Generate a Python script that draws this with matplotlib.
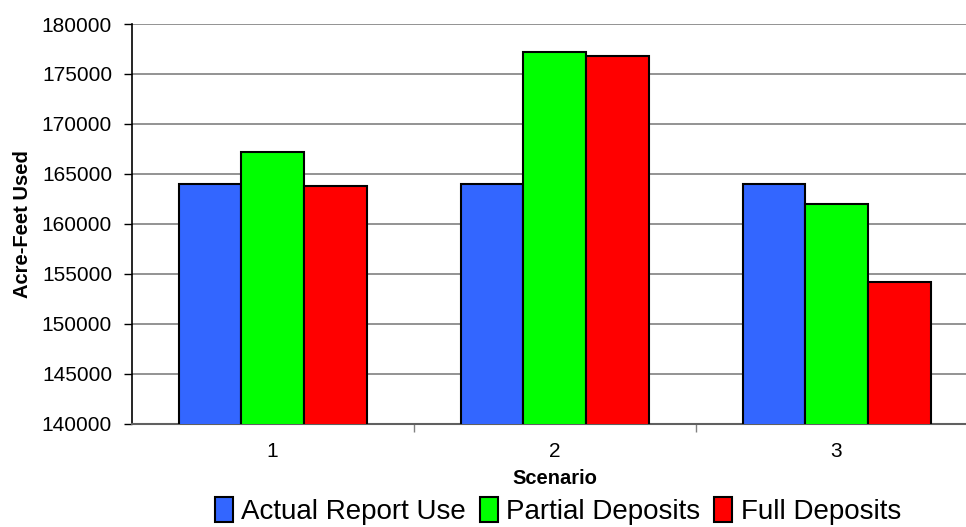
import matplotlib
matplotlib.use("Agg")
import matplotlib.pyplot as plt
import numpy as np

plt.rcParams['font.family'] = ['Liberation Sans', 'DejaVu Sans']

# acre-feet used per scenario
scenarios = ['1', '2', '3']
series_names = ['Actual Report Use', 'Partial Deposits', 'Full Deposits']
actual_use = [164000, 164000, 164000]
partial_deposits = [167200, 177200, 162000]
full_deposits = [163800, 176800, 154200]
colors = ['#3366FF', '#00FF00', '#FF0000']

fig = plt.figure(figsize=(9.66, 5.27), dpi=100)
ax = fig.add_axes([131.5 / 966, 1 - 423.5 / 527, 846 / 966, 399.5 / 527])

x = np.arange(len(scenarios))
w = (1 / 1.5) / 3
for j, (vals, name, c) in enumerate(zip([actual_use, partial_deposits, full_deposits], series_names, colors)):
    ax.bar(x + (j - 1) * w, vals, width=w, color=c, edgecolor='black', linewidth=1.5,
           label=name, zorder=3)

ax.set_xlim(-0.5, 2.5)
ax.set_ylim(140000, 180000)
ax.set_yticks(np.arange(140000, 180001, 5000))
ax.yaxis.grid(True, color='#808080', linewidth=1.2, zorder=0)
ax.set_axisbelow(True)

# category labels in the middle, tick marks on the boundaries
ax.set_xticks(x)
ax.set_xticklabels(scenarios)
ax.set_xticks([0.5, 1.5, 2.5], minor=True)
ax.tick_params(axis='x', which='major', length=0, labelsize=15, pad=13)
ax.tick_params(axis='x', which='minor', length=6, width=1, color='#808080')
ax.tick_params(axis='y', length=6, width=1, labelsize=15, pad=8)

for s in ['top', 'right']:
    ax.spines[s].set_visible(False)
ax.spines['left'].set_color('black')
ax.spines['left'].set_linewidth(1.2)
ax.spines['bottom'].set_color('#606060')
ax.spines['bottom'].set_linewidth(1.5)

ax.set_xlabel('Scenario', fontsize=14.5, fontweight='bold', labelpad=6)
ax.set_ylabel('Acre-Feet Used', fontsize=14.5, fontweight='bold', labelpad=7)

fig.legend(loc='center', bbox_to_anchor=(558 / 966, 1 - 511 / 527), ncol=3,
           frameon=False, fontsize=20, handlelength=0.65, handleheight=1.0,
           handletextpad=0.3, columnspacing=0.5, borderaxespad=0, borderpad=0.1)

fig.savefig('out.png', dpi=100)
